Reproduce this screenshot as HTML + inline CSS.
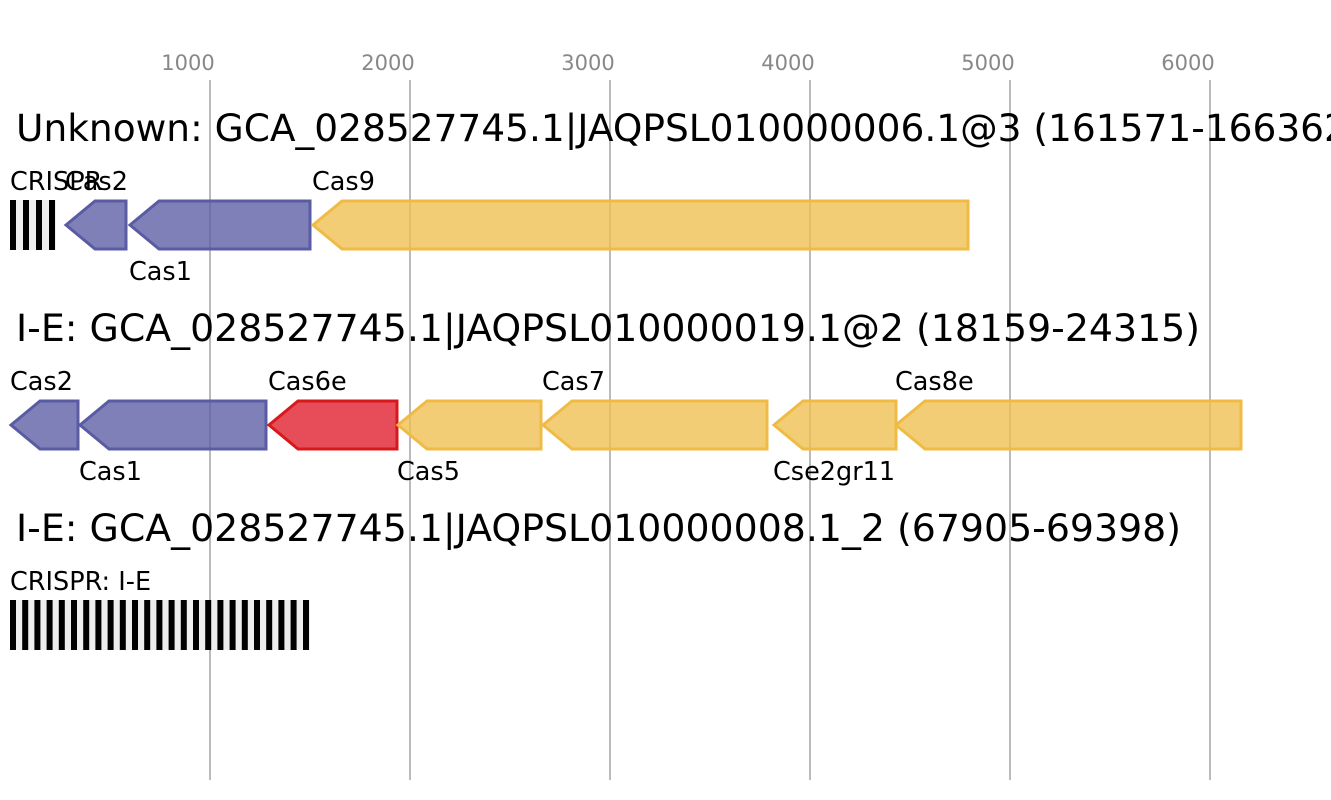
<!DOCTYPE html>
<html><head><meta charset="utf-8"><style>html,body{margin:0;padding:0;background:#fff}svg{display:block}text{font-family:"DejaVu Sans","Liberation Sans",sans-serif}</style></head>
<body>
<svg width="1331" height="800" viewBox="0 0 1331 800" xmlns="http://www.w3.org/2000/svg">
<g stroke="#bbb" stroke-width="2">
<line x1="210" y1="80" x2="210" y2="780"/><line x1="410" y1="80" x2="410" y2="780"/><line x1="610" y1="80" x2="610" y2="780"/><line x1="810" y1="80" x2="810" y2="780"/><line x1="1010" y1="80" x2="1010" y2="780"/><line x1="1210" y1="80" x2="1210" y2="780"/>
</g>
<g fill="#888" font-size="21" text-anchor="middle">
<text x="188" y="70">1000</text><text x="388" y="70">2000</text><text x="588" y="70">3000</text><text x="788" y="70">4000</text><text x="988" y="70">5000</text><text x="1188" y="70">6000</text>
</g>
<g fill="#000" font-size="37.5">
<text x="16" y="141">Unknown: GCA_028527745.1|JAQPSL010000006.1@3 (161571-166362)</text>
<text x="16" y="341" textLength="1184" lengthAdjust="spacingAndGlyphs">I-E: GCA_028527745.1|JAQPSL010000019.1@2 (18159-24315)</text>
<text x="16" y="541" textLength="1165" lengthAdjust="spacingAndGlyphs">I-E: GCA_028527745.1|JAQPSL010000008.1_2 (67905-69398)</text>
</g>
<rect x="10" y="200" width="46" height="50" fill="#eee"/>
<g fill="#000"><rect x="10" y="200" width="6" height="50"/><rect x="23" y="200" width="6" height="50"/><rect x="36" y="200" width="6" height="50"/><rect x="49" y="200" width="6" height="50"/></g>
<rect x="10" y="600" width="300" height="50" fill="#eee"/>
<g fill="#000">
<rect x="10" y="600" width="6" height="50"/><rect x="22.2" y="600" width="6" height="50"/><rect x="34.4" y="600" width="6" height="50"/><rect x="46.6" y="600" width="6" height="50"/><rect x="58.8" y="600" width="6" height="50"/><rect x="71" y="600" width="6" height="50"/><rect x="83.2" y="600" width="6" height="50"/><rect x="95.4" y="600" width="6" height="50"/><rect x="107.6" y="600" width="6" height="50"/><rect x="119.8" y="600" width="6" height="50"/><rect x="132" y="600" width="6" height="50"/><rect x="144.2" y="600" width="6" height="50"/><rect x="156.4" y="600" width="6" height="50"/><rect x="168.6" y="600" width="6" height="50"/><rect x="180.8" y="600" width="6" height="50"/><rect x="193" y="600" width="6" height="50"/><rect x="205.2" y="600" width="6" height="50"/><rect x="217.4" y="600" width="6" height="50"/><rect x="229.6" y="600" width="6" height="50"/><rect x="241.8" y="600" width="6" height="50"/><rect x="254" y="600" width="6" height="50"/><rect x="266.2" y="600" width="6" height="50"/><rect x="278.4" y="600" width="6" height="50"/><rect x="290.6" y="600" width="6" height="50"/><rect x="303" y="600" width="6" height="50"/>
</g>
<g stroke-width="3" stroke-linejoin="miter">
<g fill="#5a5ca3" fill-opacity="0.78" stroke="#5a5ca3">
<polygon points="66,225 95,201 126,201 126,249 95,249"/>
<polygon points="130,225 159,201 310,201 310,249 159,249"/>
<polygon points="11,425 40,401 78,401 78,449 40,449"/>
<polygon points="80,425 109,401 266,401 266,449 109,449"/>
</g>
<g fill="#e0192a" fill-opacity="0.78" stroke="#d7191c">
<polygon points="269,425 298,401 397,401 397,449 298,449"/>
</g>
<g fill="#efbf50" fill-opacity="0.78" stroke="#efbb45">
<polygon points="313,225 342,201 968,201 968,249 342,249"/>
<polygon points="398,425 427,401 541,401 541,449 427,449"/>
<polygon points="543,425 572,401 767,401 767,449 572,449"/>
<polygon points="774,425 803,401 896,401 896,449 803,449"/>
<polygon points="896,425 925,401 1241,401 1241,449 925,449"/>
</g>
</g>
<g fill="#000" font-size="25.5">
<text x="10" y="190">CRISPR</text>
<text x="65" y="190">Cas2</text>
<text x="129" y="280">Cas1</text>
<text x="312" y="190">Cas9</text>
<text x="10" y="390">Cas2</text>
<text x="79" y="480">Cas1</text>
<text x="268" y="390">Cas6e</text>
<text x="397" y="480">Cas5</text>
<text x="542" y="390">Cas7</text>
<text x="773" y="480">Cse2gr11</text>
<text x="895" y="390">Cas8e</text>
<text x="10" y="590">CRISPR: I-E</text>
</g>
</svg>
</body></html>
